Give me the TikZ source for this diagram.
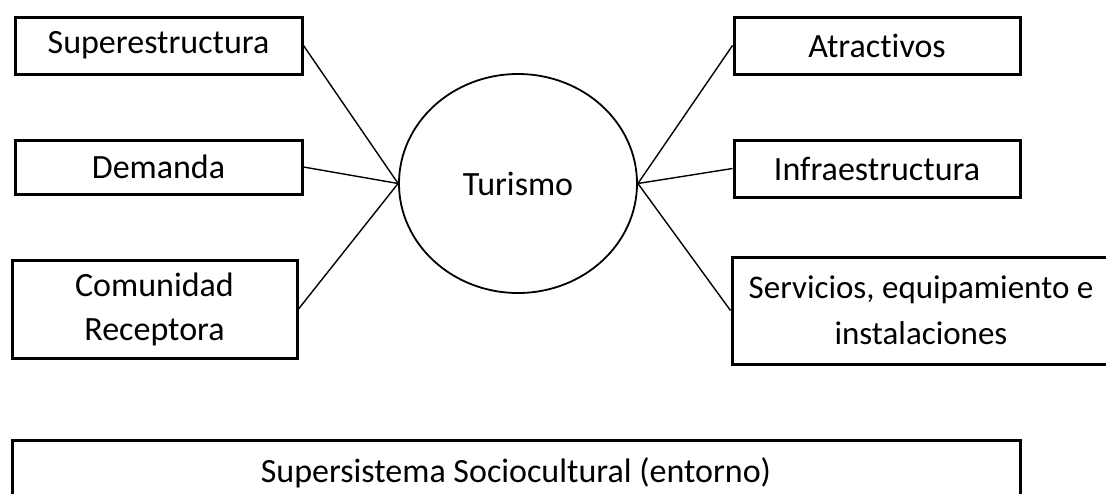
\documentclass[tikz,border=0pt]{standalone}
\usepackage{fontspec}
\setmainfont{Carlito}[Ligatures=NoCommon]
\usetikzlibrary{shapes.geometric, positioning}
\tikzset{
	caja/.style={draw, line width=3pt, align=center, inner sep=0pt, font=\fontsize{34}{44}\selectfont},
	enlace/.style={line width=1.4pt},
}
\begin{document}
\begin{tikzpicture}[x=1pt, y=-1pt]
	\useasboundingbox (0,0) rectangle (1106,493);
	\node[draw, ellipse, line width=1.8pt, minimum width=238, minimum height=219, font=\fontsize{34}{44}\selectfont] (tur) at (518,183.5) {Turismo};

	\node[caja, minimum width=287, minimum height=57] (sup) at (158.5,45.5) {Superestructura};
	\node[caja, minimum width=287, minimum height=54] (dem) at (158.5,167) {Demanda};
	\node[caja, minimum width=285, minimum height=98] (com) at (154.5,309) {Comunidad\\Receptora};

	\node[caja, minimum width=286, minimum height=57] (atr) at (877,45.5) {Atractivos};
	\node[caja, minimum width=286, minimum height=57] (inf) at (877,168.5) {Infraestructura};
	\node[caja, minimum width=378, minimum height=107, font=\fontsize{33}{46}\selectfont] (ser) at (921,310.5) {Servicios, equipamiento e\\instalaciones};

	\node[caja, minimum width=1008, minimum height=65] (ent) at (516,472.5) {Supersistema Sociocultural (entorno)};

	\foreach \n in {sup, dem, com} {
		\draw[enlace] (\n.east) -- (tur.west);
	}
	\foreach \n in {atr, inf, ser} {
		\draw[enlace] (\n.west) -- (tur.east);
	}
\end{tikzpicture}
\end{document}
